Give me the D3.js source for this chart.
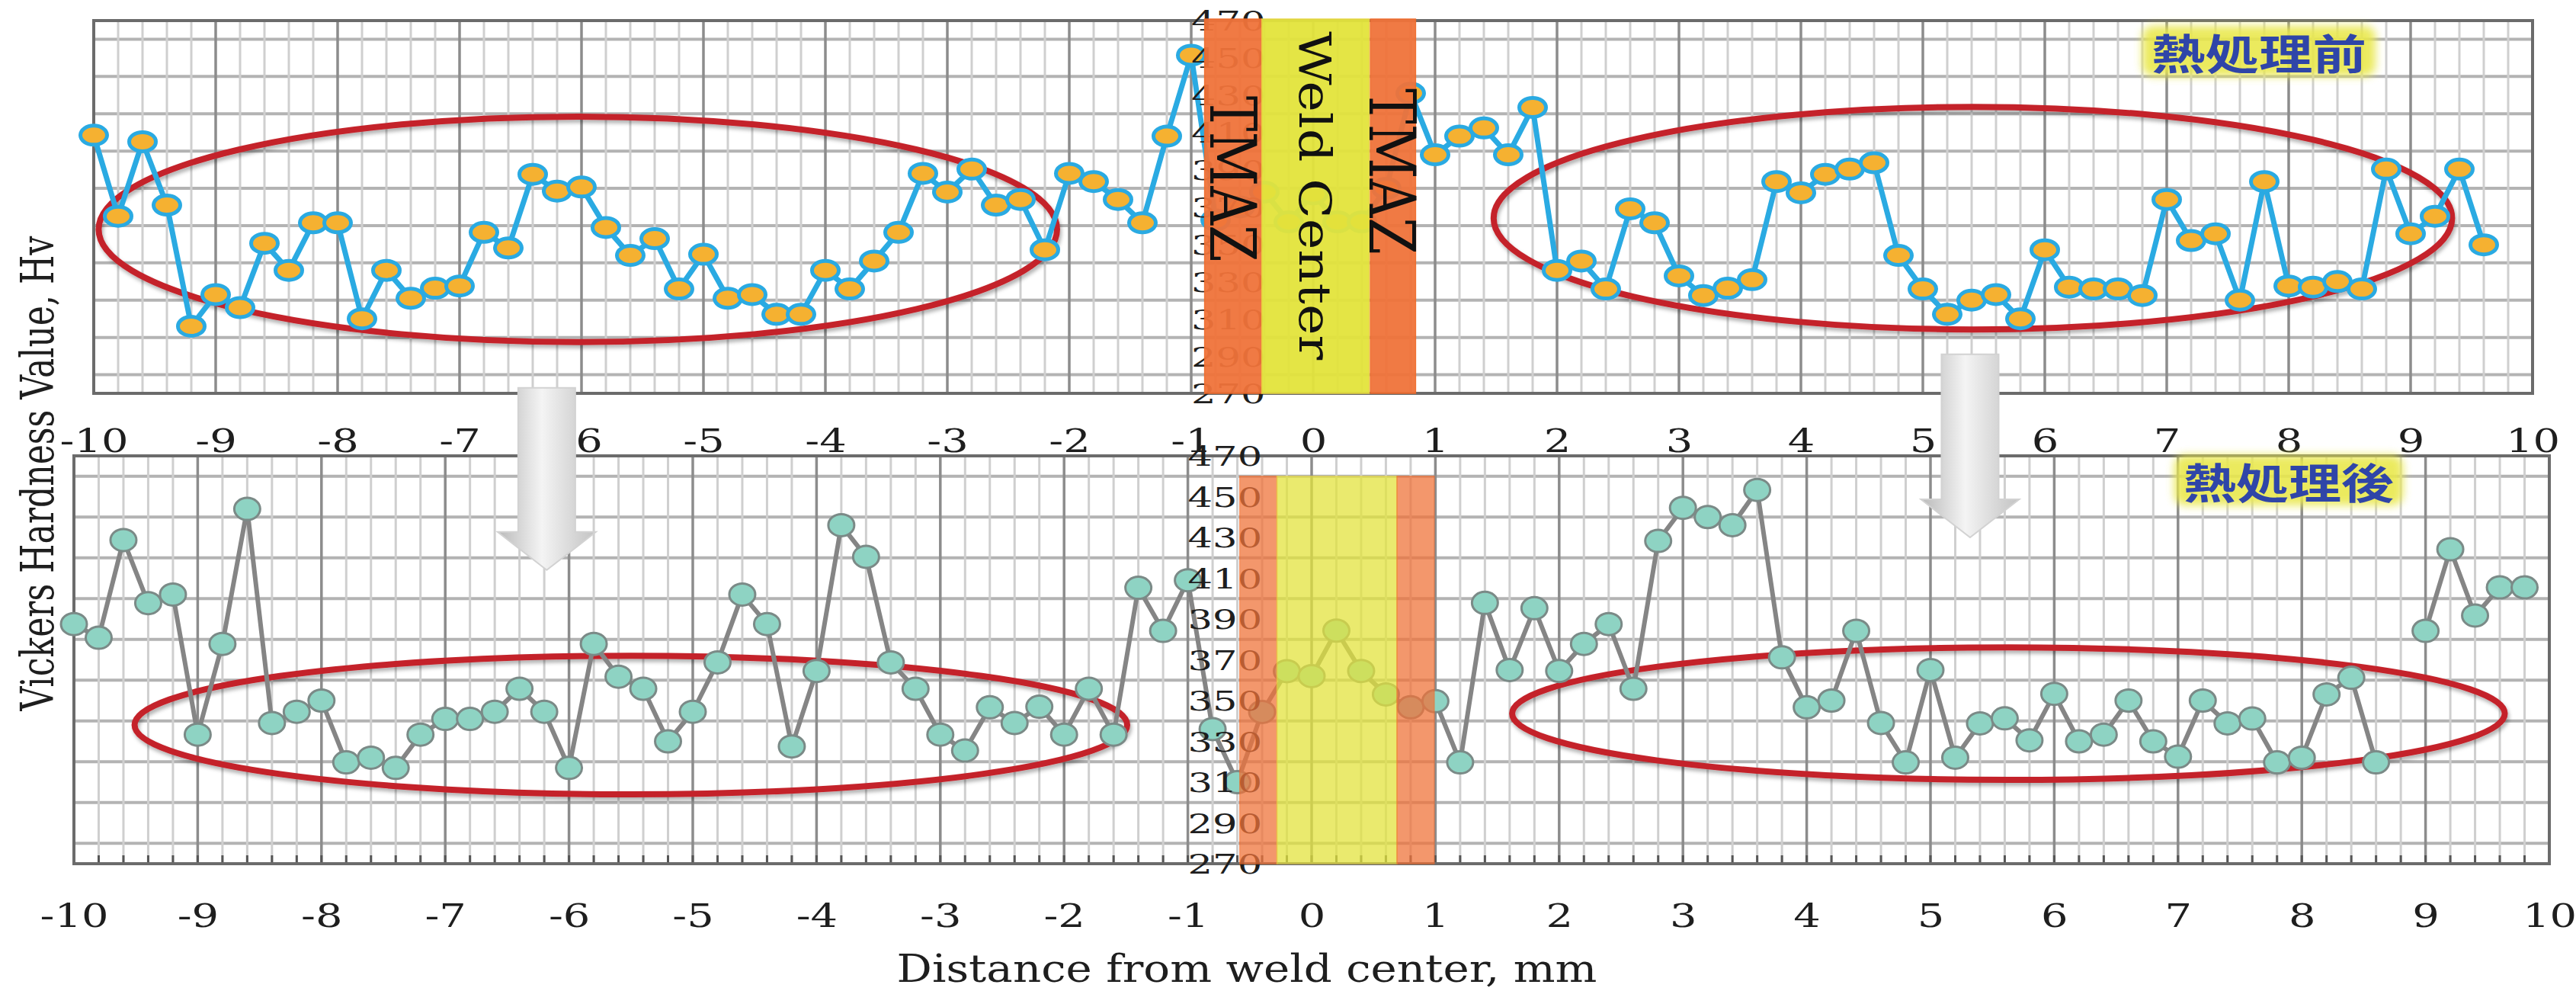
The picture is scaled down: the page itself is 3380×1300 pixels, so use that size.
<!DOCTYPE html>
<html>
<head>
<meta charset="utf-8">
<script src="https://cdn.jsdelivr.net/npm/d3@7"></script>
<style>
  body { margin: 0; background: #fff; }
</style>
</head>
<body>
<div id="chart"></div>
<script>
// distance from weld center (mm) and hardness (Hv), before heat treatment
var distBefore = [-10, -9.8, -9.6, -9.4, -9.2, -9, -8.8, -8.6, -8.4, -8.2, -8, -7.8, -7.6, -7.4, -7.2, -7, -6.8, -6.6, -6.4, -6.2,
    -6, -5.8, -5.6, -5.4, -5.2, -5, -4.8, -4.6, -4.4, -4.2, -4, -3.8, -3.6, -3.4, -3.2, -3, -2.8, -2.6, -2.4, -2.2,
    -2, -1.8, -1.6, -1.4, -1.2, -1, -0.8, -0.6, -0.4, -0.2, 0, 0.2, 0.4, 0.6, 0.8, 1, 1.2, 1.4, 1.6, 1.8,
    2, 2.2, 2.4, 2.6, 2.8, 3, 3.2, 3.4, 3.6, 3.8, 4, 4.2, 4.4, 4.6, 4.8, 5, 5.2, 5.4, 5.6, 5.8,
    6, 6.2, 6.4, 6.6, 6.8, 7, 7.2, 7.4, 7.6, 7.8, 8, 8.2, 8.4, 8.6, 8.8, 9, 9.2, 9.4, 9.6];
var hvBefore = [408.5, 365, 405, 371, 306, 323, 316, 350.5, 336, 361.5, 361.5, 310, 336, 321, 326.4, 327.6, 356.4, 348, 387.5, 378.5,
    380.7, 359, 344, 353, 326, 344.6, 321, 323, 312.4, 312.4, 336, 326, 341, 356.4, 388, 378, 390.3, 371, 374, 347,
    388, 383.6, 374, 361.5, 408, 451.4, 363, 370, 378, 362, 377, 362, 362, 380, 431, 398, 408, 412.4, 398, 423.4,
    336, 341, 326, 369, 361.5, 333, 322.5, 326.4, 331, 383.6, 377.6, 387.5, 390.3, 393.7, 344, 326, 312.4, 320, 323, 310,
    347, 327, 326, 326, 322.5, 374, 352, 355.6, 320, 383.6, 327.6, 327, 330, 326, 390.3, 355.6, 365, 390.3, 349.7];

// after heat treatment (no measurement at 8.8 mm)
var distAfter = [-10, -9.8, -9.6, -9.4, -9.2, -9, -8.8, -8.6, -8.4, -8.2, -8, -7.8, -7.6, -7.4, -7.2, -7, -6.8, -6.6, -6.4, -6.2,
    -6, -5.8, -5.6, -5.4, -5.2, -5, -4.8, -4.6, -4.4, -4.2, -4, -3.8, -3.6, -3.4, -3.2, -3, -2.8, -2.6, -2.4, -2.2,
    -2, -1.8, -1.6, -1.4, -1.2, -1, -0.8, -0.6, -0.4, -0.2, 0, 0.2, 0.4, 0.6, 0.8, 1, 1.2, 1.4, 1.6, 1.8,
    2, 2.2, 2.4, 2.6, 2.8, 3, 3.2, 3.4, 3.6, 3.8, 4, 4.2, 4.4, 4.6, 4.8, 5, 5.2, 5.4, 5.6, 5.8,
    6, 6.2, 6.4, 6.6, 6.8, 7, 7.2, 7.4, 7.6, 7.8, 8, 8.2, 8.4, 8.6, 8.8, 9, 9.2, 9.4, 9.6, 9.8];
var hvAfter = [387.5, 380.8, 428.7, 397.8, 402, 333.3, 377.8, 444, 339, 344.5, 350, 319.7, 322, 317, 333.3, 341, 341, 344.5, 355.8, 344.5,
    317, 377.8, 361.7, 355.8, 330, 344.5, 368.7, 402, 387.5, 327.5, 364.5, 436, 420.5, 368.7, 355.8, 333.3, 325.5, 346.7, 339, 347,
    333.3, 355.8, 333.3, 405.3, 384.2, 409, 336, 310, 344.4, 364.4, 362, 384.3, 364.5, 353, 346.7, 349.7, 319.7, 397.9, 365, 395.3,
    364.5, 377.8, 387.5, 355.8, 428.3, 444.5, 440, 436, 453.3, 371.2, 346.7, 350, 384.2, 339, 319.7, 365, 322, 338.8, 341.3, 330.5,
    353.3, 330, 333.3, 350, 330, 322.5, 350, 338.8, 341.2, 319.7, 322, 353, 361.2, 319.7, null, 384.2, 424.2, 391.7, 405.5, 405.5];

var xTicks = [-10, -9, -8, -7, -6, -5, -4, -3, -2, -1, 0, 1, 2, 3, 4, 5, 6, 7, 8, 9, 10];
var yTicks = [270, 290, 310, 330, 350, 370, 390, 410, 430, 450, 470];

// weld zones (mm) : TMAZ | weld center | TMAZ
var zoneNames = ["TMAZ", "Weld Center", "TMAZ"];
var zoneFromBefore = [-0.89, -0.42, 0.47];
var zoneToBefore = [-0.42, 0.46, 0.84];
var zoneLabelHv = [385, 376, 389];
var zoneFromAfter = [-0.58, -0.28, 0.69];
var zoneToAfter = [-0.28, 0.69, 0.99];
var zoneTopAfter = 460;

// highlighted regions (center mm, center Hv, half width mm, half height Hv)
var ovalsBefore = [{cx: -6.03, cy: 358, rx: 3.93, ry: 60.5}, {cx: 5.41, cy: 364, rx: 3.93, ry: 59.7}];
var ovalsAfter = [{cx: -5.5, cy: 338, rx: 4.01, ry: 34}, {cx: 5.63, cy: 343.6, rx: 4.01, ry: 32.5}];

// down arrows: position (mm), start Hv in upper chart, tip Hv in lower chart
var arrowDist = [-6.18, 5.32];
var arrowFromHv = [273, 291];
var arrowToHv = [414, 430];

var W = 3380, H = 1300;
var serif = "'DejaVu Serif', 'Liberation Serif', serif";

var svg = d3.select("#chart").append("svg")
    .attr("width", W)
    .attr("height", H);

svg.append("rect").attr("width", W).attr("height", H).attr("fill", "#fff");

var defs = svg.append("defs");
defs.append("filter").attr("id", "shadow").attr("x", "-10%").attr("y", "-20%").attr("width", "120%").attr("height", "140%")
    .append("feDropShadow")
    .attr("dx", 2).attr("dy", 4).attr("stdDeviation", 2.5)
    .attr("flood-color", "#000").attr("flood-opacity", 0.3);
defs.append("filter").attr("id", "glow").attr("x", "-20%").attr("y", "-50%").attr("width", "140%").attr("height", "200%")
    .append("feGaussianBlur").attr("stdDeviation", 6);
var grad = defs.append("linearGradient").attr("id", "arrowGrad").attr("x1", 0).attr("x2", 1).attr("y1", 0).attr("y2", 0);
grad.append("stop").attr("offset", "0%").attr("stop-color", "#b9b9b9");
grad.append("stop").attr("offset", "45%").attr("stop-color", "#f4f4f4");
grad.append("stop").attr("offset", "100%").attr("stop-color", "#c2c2c2");

var panels = [
    {
        dist: distBefore, hv: hvBefore, ovals: ovalsBefore,
        left: 123, right: 3323, top: 27, bottom: 516, labelY: 593,
        line: "#2aaae2", lineW: 7, fill: "#f5b131", stroke: "#2aaae2", strokeW: 5, rx: 17.5, ry: 12.5,
        zoneFrom: zoneFromBefore, zoneTo: zoneToBefore, zoneTop: 470, zoneTopPad: 2, zoneOpacity: 0.95,
        tag: "熱処理前", tagX: 2964, tagY: 67, tagW: 282, ticks: false
    },
    {
        dist: distAfter, hv: hvAfter, ovals: ovalsAfter,
        left: 97, right: 3345, top: 598, bottom: 1133, labelY: 1216,
        line: "#858585", lineW: 6, fill: "#8ed3c3", stroke: "#7b8a87", strokeW: 3, rx: 17, ry: 14.5,
        zoneFrom: zoneFromAfter, zoneTo: zoneToAfter, zoneTop: zoneTopAfter, zoneTopPad: 0, zoneOpacity: 0.74,
        tag: "熱処理後", tagX: 3003, tagY: 630, tagW: 276, ticks: true
    }
];

panels.forEach(function (p) {
    p.x = d3.scaleLinear().domain([-10, 10]).range([p.left, p.right]);
    p.y = d3.scaleLinear().domain([270, 470]).range([p.bottom, p.top]);
});

function isMajor(d) {
    return Math.abs(d - Math.round(d)) < 1e-6;
}

function drawPanel(p) {
    var x = p.x, y = p.y;
    var g = svg.append("g");

    //Grid
    g.selectAll(".hgrid").data(y.ticks(10)).enter().append("line")
        .attr("x1", p.left).attr("x2", p.right)
        .attr("y1", y).attr("y2", y)
        .attr("stroke", "#b3b3b3").attr("stroke-width", 4);

    g.selectAll(".vgrid").data(x.ticks(100)).enter().append("line")
        .attr("x1", x).attr("x2", x)
        .attr("y1", p.top).attr("y2", p.bottom)
        .attr("stroke", function (d) { return isMajor(d) ? "#8c8c8c" : "#cfcfcf"; })
        .attr("stroke-width", function (d) { return isMajor(d) ? 3.5 : 3; });

    if (p.ticks) {
        g.selectAll(".tick-mark").data(x.ticks(100)).enter().append("line")
            .attr("x1", x).attr("x2", x)
            .attr("y1", p.bottom).attr("y2", p.bottom - 11)
            .attr("stroke", "#555").attr("stroke-width", 3);
    }

    g.append("rect")
        .attr("x", p.left).attr("y", p.top)
        .attr("width", p.right - p.left).attr("height", p.bottom - p.top)
        .attr("fill", "none").attr("stroke", "#6b6b6b").attr("stroke-width", 4);

    //Tag with yellow glow
    g.append("rect")
        .attr("x", p.tagX - p.tagW / 2 - 12).attr("y", p.tagY - 33)
        .attr("width", p.tagW + 24).attr("height", 66)
        .attr("rx", 14)
        .attr("fill", "#e9e84e").attr("opacity", 0.9)
        .attr("filter", "url(#glow)");
    g.append("text")
        .attr("x", p.tagX).attr("y", p.tagY)
        .attr("text-anchor", "middle")
        .attr("dominant-baseline", "central")
        .attr("textLength", p.tagW).attr("lengthAdjust", "spacingAndGlyphs")
        .style("font-family", "'Noto Sans CJK JP', 'Noto Sans CJK SC', sans-serif")
        .style("font-weight", 700)
        .style("font-size", "55px")
        .style("fill", "#2f45a8")
        .text(p.tag);

    //Highlight ovals
    g.selectAll(".oval").data(p.ovals).enter().append("ellipse")
        .attr("cx", function (d) { return x(d.cx); })
        .attr("cy", function (d) { return y(d.cy); })
        .attr("rx", function (d) { return x(d.cx + d.rx) - x(d.cx); })
        .attr("ry", function (d) { return y(d.cy - d.ry) - y(d.cy); })
        .attr("fill", "none")
        .attr("stroke", "#c4232b").attr("stroke-width", 8)
        .attr("filter", "url(#shadow)");

    //Series
    var pts = p.dist.map(function (d, i) { return {d: d, v: p.hv[i]}; });
    var line = d3.line()
        .defined(function (d) { return d.v != null; })
        .x(function (d) { return x(d.d); })
        .y(function (d) { return y(d.v); });

    g.append("path")
        .datum(pts)
        .attr("d", line)
        .attr("fill", "none")
        .attr("stroke", p.line).attr("stroke-width", p.lineW)
        .attr("stroke-linejoin", "round");

    g.selectAll(".pt").data(pts.filter(function (d) { return d.v != null; })).enter().append("ellipse")
        .attr("cx", function (d) { return x(d.d); })
        .attr("cy", function (d) { return y(d.v); })
        .attr("rx", p.rx).attr("ry", p.ry)
        .attr("fill", p.fill)
        .attr("stroke", p.stroke).attr("stroke-width", p.strokeW);

    //Hardness labels sitting at -1 mm
    var yAxis = g.append("g")
        .attr("transform", "translate(" + x(-1) + ",0)")
        .call(d3.axisRight(y).tickValues(yTicks).tickSize(0).tickPadding(0));
    yAxis.select(".domain").remove();
    yAxis.selectAll("text")
        .attr("x", 0)
        .attr("dy", "0.36em")
        .attr("transform", "scale(1.42,1)")
        .style("font-family", serif)
        .style("font-size", "36px")
        .style("fill", "#1e1e1e");

    //Distance labels
    var xAxis = g.append("g")
        .attr("transform", "translate(0," + p.labelY + ")")
        .call(d3.axisBottom(x).tickValues(xTicks).tickSize(0).tickFormat(function (d) { return String(d); }));
    xAxis.select(".domain").remove();
    xAxis.selectAll("text")
        .attr("y", 0).attr("dy", null)
        .attr("transform", "scale(1.3,1)")
        .style("font-family", serif)
        .style("font-size", "43px")
        .style("fill", "#1e1e1e");

    //Weld zones
    var zones = zoneNames.map(function (n, i) {
        return {name: n, from: p.zoneFrom[i], to: p.zoneTo[i], hv: zoneLabelHv[i]};
    });
    g.selectAll(".zone").data(zones).enter().append("rect")
        .attr("x", function (d) { return x(d.from); })
        .attr("width", function (d) { return x(d.to) - x(d.from); })
        .attr("y", y(p.zoneTop) - p.zoneTopPad)
        .attr("height", p.bottom - y(p.zoneTop) + p.zoneTopPad)
        .attr("fill", function (d) { return d.name == "TMAZ" ? "#f0733a" : "#e3e43c"; })
        .attr("stroke", function (d) { return d.name == "TMAZ" ? "#f06a2a" : "#e8d640"; })
        .attr("stroke-width", 1.5)
        .attr("opacity", p.zoneOpacity);

    return {g: g, zones: zones};
}

var drawn = panels.map(drawPanel);

//Zone names in the upper chart
var pTop = panels[0];
drawn[0].g.selectAll(".zone-label").data(drawn[0].zones).enter().append("text")
    .attr("transform", function (d) {
        var fs = d.name == "TMAZ" ? 84 : 58;
        var cx = (pTop.x(d.from) + pTop.x(d.to)) / 2 - 0.729 * fs / 2;
        return "translate(" + cx + "," + pTop.y(d.hv) + ") rotate(90)";
    })
    .attr("text-anchor", "middle")
    .attr("textLength", function (d) { return d.name == "TMAZ" ? 218 : 431; })
    .attr("lengthAdjust", "spacingAndGlyphs")
    .style("font-family", serif)
    .style("font-size", function (d) { return d.name == "TMAZ" ? "84px" : "58px"; })
    .style("fill", "#111")
    .text(function (d) { return d.name; });

//Arrows from the upper chart to the lower one
var pBot = panels[1];
svg.selectAll(".arrow").data(arrowDist).enter().append("path")
    .attr("d", function (d, i) {
        var cx = pBot.x(d), sw = 37.5, hw = 64.5;
        var y0 = pTop.y(arrowFromHv[i]), yTip = pBot.y(arrowToHv[i]), yHead = yTip - 50;
        return "M" + (cx - sw) + "," + y0 + "L" + (cx + sw) + "," + y0 + "L" + (cx + sw) + "," + yHead +
            "L" + (cx + hw) + "," + yHead + "L" + cx + "," + yTip + "L" + (cx - hw) + "," + yHead +
            "L" + (cx - sw) + "," + yHead + "Z";
    })
    .attr("fill", "url(#arrowGrad)")
    .attr("stroke", "#d2d2d2").attr("stroke-width", 2);

//Axis titles
svg.append("text")
    .attr("x", 1636).attr("y", 1288)
    .attr("text-anchor", "middle")
    .attr("textLength", 919).attr("lengthAdjust", "spacingAndGlyphs")
    .style("font-family", serif)
    .style("font-size", "50px")
    .style("fill", "#1e1e1e")
    .text("Distance from weld center, mm");

svg.append("text")
    .attr("transform", "translate(70,621) rotate(-90)")
    .attr("text-anchor", "middle")
    .attr("textLength", 623).attr("lengthAdjust", "spacingAndGlyphs")
    .style("font-family", serif)
    .style("font-size", "59px")
    .style("fill", "#1e1e1e")
    .text("Vickers Hardness Value, Hv");
</script>
</body>
</html>
